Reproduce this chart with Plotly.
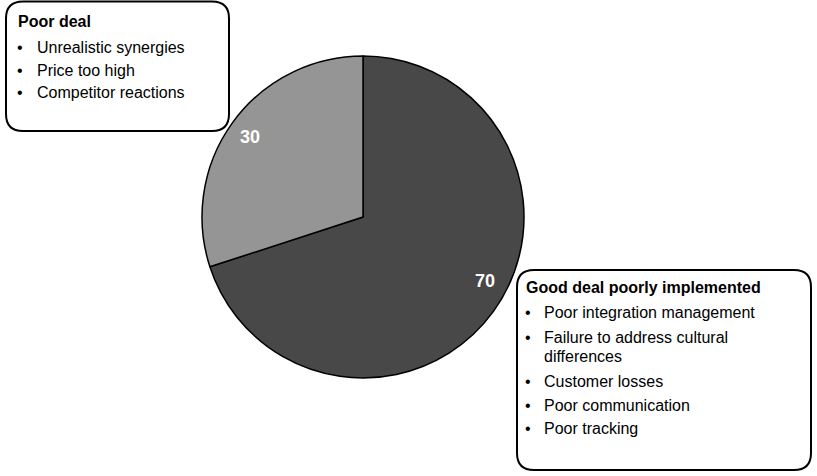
import plotly.graph_objects as go

# ---- data ----
slice_labels = ["Good deal poorly implemented", "Poor deal"]
slice_values = [70, 30]
slice_colors = ["#484848", "#959595"]

poor_deal_title = "Poor deal"
poor_deal_items = ["Unrealistic synergies", "Price too high", "Competitor reactions"]

good_deal_title = "Good deal poorly implemented"
good_deal_items = [
    ["Poor integration management"],
    ["Failure to address cultural", "differences"],
    ["Customer losses"],
    ["Poor communication"],
    ["Poor tracking"],
]

W, H = 817, 476
FONT = "Liberation Sans, Arial, Helvetica, sans-serif"
FS = 16

# pie geometry in pixels
cx, cy, r = 363, 217, 161

fig = go.Figure()
fig.add_trace(go.Pie(
    labels=slice_labels, values=slice_values, sort=False,
    direction="clockwise", rotation=0,
    marker=dict(colors=slice_colors, line=dict(color="#000000", width=1.5)),
    textinfo="none", hoverinfo="label+value", showlegend=False,
    domain=dict(x=[(cx - r) / W, (cx + r) / W], y=[1 - (cy + r) / H, 1 - (cy - r) / H]),
))


def rounded(x0, y0, x1, y1, rr):
    return (f"M {x0+rr},{y0} L {x1-rr},{y0} Q {x1},{y0} {x1},{y0+rr} "
            f"L {x1},{y1-rr} Q {x1},{y1} {x1-rr},{y1} L {x0+rr},{y1} "
            f"Q {x0},{y1} {x0},{y1-rr} L {x0},{y0+rr} Q {x0},{y0} {x0+rr},{y0} Z")


shapes = [
    dict(type="path", xref="x", yref="y", path=rounded(6, 1.5, 229, 131, 17),
         line=dict(color="#000000", width=2), fillcolor="white", layer="above"),
    dict(type="path", xref="x", yref="y", path=rounded(517, 270, 811, 470, 17),
         line=dict(color="#000000", width=2), fillcolor="white", layer="above"),
]

annotations = []


def txt(x, y, s, bold=False, color="#000000", size=FS, anchor="left"):
    annotations.append(dict(
        x=x, y=y, xref="x", yref="y", text=f"<b>{s}</b>" if bold else s,
        showarrow=False, xanchor=anchor, yanchor="middle",
        font=dict(family=FONT, size=size, color=color)))


# slice value labels
txt(250, 137, str(slice_values[1]), bold=True, color="white", size=18, anchor="center")
txt(485, 281, str(slice_values[0]), bold=True, color="white", size=18, anchor="center")

# top-left box
txt(16, 21, poor_deal_title, bold=True)
top_y = [47, 70, 92]
for yy, item in zip(top_y, poor_deal_items):
    txt(15, yy, "•")
    txt(35, yy, item)

# bottom-right box
txt(524, 287, good_deal_title, bold=True)
bot_y = [[312], [337, 356], [381], [405], [428]]
for ys, lines in zip(bot_y, good_deal_items):
    txt(523, ys[0], "•")
    for yy, line in zip(ys, lines):
        txt(542, yy, line)

fig.update_layout(
    width=W, height=H, margin=dict(l=0, r=0, t=0, b=0),
    paper_bgcolor="white", plot_bgcolor="white",
    xaxis=dict(range=[0, W], visible=False, fixedrange=True),
    yaxis=dict(range=[H, 0], visible=False, fixedrange=True),
    shapes=shapes, annotations=annotations,
)

fig.write_html("out.html")
